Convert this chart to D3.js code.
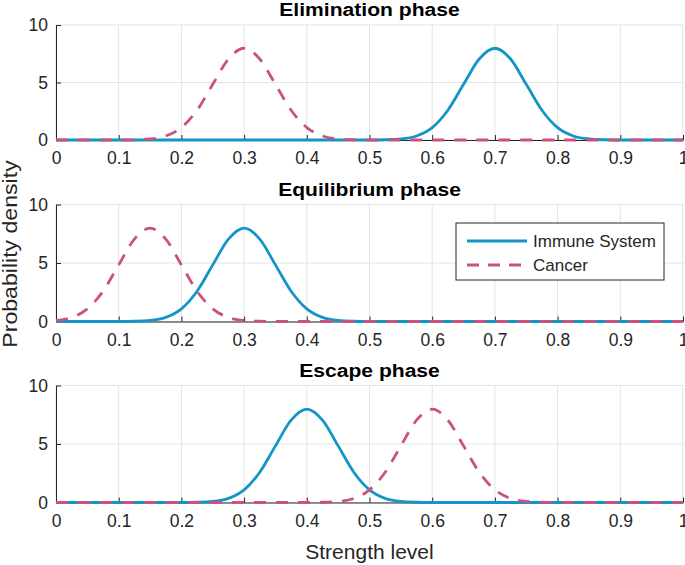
<!DOCTYPE html>
<html>
<head>
<meta charset="utf-8">
<script src="https://cdn.jsdelivr.net/npm/d3@7"></script>
<style>
    body { margin: 0; background: #fff; }
    text { font-family: "Liberation Sans", Arial, sans-serif; }
</style>
</head>
<body>
<svg id="chart"></svg>
<script>
// strength levels (x), sampled every 0.025
const strength = [0, 0.025, 0.05, 0.075, 0.1, 0.125, 0.15, 0.175, 0.2, 0.225,
    0.25, 0.275, 0.3, 0.325, 0.35, 0.375, 0.4, 0.425, 0.45, 0.475,
    0.5, 0.525, 0.55, 0.575, 0.6, 0.625, 0.65, 0.675, 0.7, 0.725,
    0.75, 0.775, 0.8, 0.825, 0.85, 0.875, 0.9, 0.925, 0.95, 0.975, 1];

const phaseTitles = ["Elimination phase", "Equilibrium phase", "Escape phase"];
const seriesNames = ["Immune System", "Cancer"];

// probability density
const immuneElimination = [0, 0, 0, 0, 0, 0, 0, 0, 0, 0,
    0, 0, 0, 0, 0, 0, 0, 0, 0, 0,
    0, 0.02, 0.09, 0.35, 1.08, 2.59, 4.84, 7.04, 7.98, 7.04,
    4.84, 2.59, 1.08, 0.35, 0.09, 0.02, 0, 0, 0, 0, 0];
const cancerElimination = [0, 0, 0, 0, 0, 0.02, 0.09, 0.35, 1.08, 2.59,
    4.84, 7.04, 7.98, 7.04, 4.84, 2.59, 1.08, 0.35, 0.09, 0.02,
    0, 0, 0, 0, 0, 0, 0, 0, 0, 0,
    0, 0, 0, 0, 0, 0, 0, 0, 0, 0, 0];

const immuneEquilibrium = [0, 0, 0, 0, 0, 0.02, 0.09, 0.35, 1.08, 2.59,
    4.84, 7.04, 7.98, 7.04, 4.84, 2.59, 1.08, 0.35, 0.09, 0.02,
    0, 0, 0, 0, 0, 0, 0, 0, 0, 0,
    0, 0, 0, 0, 0, 0, 0, 0, 0, 0, 0];
const cancerEquilibrium = [0.09, 0.35, 1.08, 2.59, 4.84, 7.04, 7.98, 7.04, 4.84, 2.59,
    1.08, 0.35, 0.09, 0.02, 0, 0, 0, 0, 0, 0,
    0, 0, 0, 0, 0, 0, 0, 0, 0, 0,
    0, 0, 0, 0, 0, 0, 0, 0, 0, 0, 0];

const immuneEscape = [0, 0, 0, 0, 0, 0, 0, 0, 0, 0.02,
    0.09, 0.35, 1.08, 2.59, 4.84, 7.04, 7.98, 7.04, 4.84, 2.59,
    1.08, 0.35, 0.09, 0.02, 0, 0, 0, 0, 0, 0,
    0, 0, 0, 0, 0, 0, 0, 0, 0, 0, 0];
const cancerEscape = [0, 0, 0, 0, 0, 0, 0, 0, 0, 0,
    0, 0, 0, 0, 0, 0, 0, 0.02, 0.09, 0.35,
    1.08, 2.59, 4.84, 7.04, 7.98, 7.04, 4.84, 2.59, 1.08, 0.35,
    0.09, 0.02, 0, 0, 0, 0, 0, 0, 0, 0, 0];

const xTicks = [0, 0.1, 0.2, 0.3, 0.4, 0.5, 0.6, 0.7, 0.8, 0.9, 1];
const yTicks = [0, 5, 10];

const width = 685, height = 565;
const blue = "#1396c6", pink = "#c9527e", axisColor = "#262626", gridColor = "#e3e3e3";

const svg = d3.select("#chart").attr("width", width).attr("height", height);

const x = d3.scaleLinear().domain([0, 1]).range([56, 683]);

const panels = [
    { title: phaseTitles[0], immune: immuneElimination, cancer: cancerElimination, top: 25, bottom: 140 },
    { title: phaseTitles[1], immune: immuneEquilibrium, cancer: cancerEquilibrium, top: 204.5, bottom: 321.5 },
    { title: phaseTitles[2], immune: immuneEscape, cancer: cancerEscape, top: 385.5, bottom: 502.5 }
];

panels.forEach(p => {
    const y = d3.scaleLinear().domain([0, 10]).range([p.bottom, p.top]);
    const g = svg.append("g");

    // grid
    g.append("g").selectAll("line").data(xTicks).join("line")
        .attr("x1", d => x(d)).attr("x2", d => x(d))
        .attr("y1", p.top).attr("y2", p.bottom)
        .attr("stroke", gridColor);
    g.append("g").selectAll("line").data(yTicks).join("line")
        .attr("x1", x(0)).attr("x2", x(1))
        .attr("y1", d => y(d)).attr("y2", d => y(d))
        .attr("stroke", gridColor);

    const xAxis = g.append("g")
        .attr("transform", `translate(0,${p.bottom})`)
        .call(d3.axisBottom(x).tickValues(xTicks).tickFormat(d3.format("~g"))
            .tickSizeInner(-5).tickSizeOuter(0).tickPadding(12));
    const yAxis = g.append("g")
        .attr("transform", `translate(${x(0)},0)`)
        .call(d3.axisLeft(y).tickValues(yTicks)
            .tickSizeInner(-5).tickSizeOuter(0).tickPadding(8));

    [xAxis, yAxis].forEach(a => {
        a.select(".domain").attr("stroke", axisColor);
        a.selectAll(".tick line").attr("stroke", axisColor);
        a.selectAll(".tick text").attr("fill", axisColor)
            .style("font-size", "17.5px").style("font-family", "Liberation Sans, Arial, sans-serif");
    });

    const line = d3.line()
        .x((d, i) => x(strength[i]))
        .y(d => y(d))
        .curve(d3.curveMonotoneX);

    g.append("path").datum(p.immune)
        .attr("d", line).attr("fill", "none")
        .attr("stroke", blue).attr("stroke-width", 2.8);
    g.append("path").datum(p.cancer)
        .attr("d", line).attr("fill", "none")
        .attr("stroke", pink).attr("stroke-width", 2.8)
        .attr("stroke-dasharray", "12,10");

    // titles are a bit wider than Liberation bold, stretch them
    g.append("text")
        .attr("transform", `translate(${(x(0) + x(1)) / 2},${p.top - 9}) scale(1.11,1)`)
        .attr("text-anchor", "middle")
        .attr("font-weight", "bold").attr("font-size", 19)
        .attr("fill", "#000")
        .text(p.title);
});

// axis labels
svg.append("text")
    .attr("x", (x(0) + x(1)) / 2).attr("y", 559)
    .attr("text-anchor", "middle").attr("font-size", 21)
    .attr("fill", axisColor)
    .text("Strength level");

svg.append("text")
    .attr("transform", "translate(17,254) rotate(-90) scale(1.1,1)")
    .attr("text-anchor", "middle").attr("font-size", 21)
    .attr("fill", axisColor)
    .text("Probability density");

// legend
const legend = svg.append("g").attr("transform", "translate(456,223)");
legend.append("rect")
    .attr("width", 208).attr("height", 57)
    .attr("fill", "#fff").attr("stroke", axisColor);

const legendRows = legend.selectAll("g.row")
    .data(seriesNames).join("g")
    .attr("class", "row")
    .attr("transform", (d, i) => `translate(0,${18 + i * 24})`);

legendRows.append("line")
    .attr("x1", 11).attr("x2", 71)
    .attr("stroke", (d, i) => i === 0 ? blue : pink)
    .attr("stroke-width", 2.8)
    .attr("stroke-dasharray", (d, i) => i === 0 ? null : "12,9");

legendRows.append("text")
    .attr("x", 77).attr("dy", "0.35em")
    .attr("font-size", 17).attr("fill", axisColor)
    .text(d => d);
</script>
</body>
</html>
